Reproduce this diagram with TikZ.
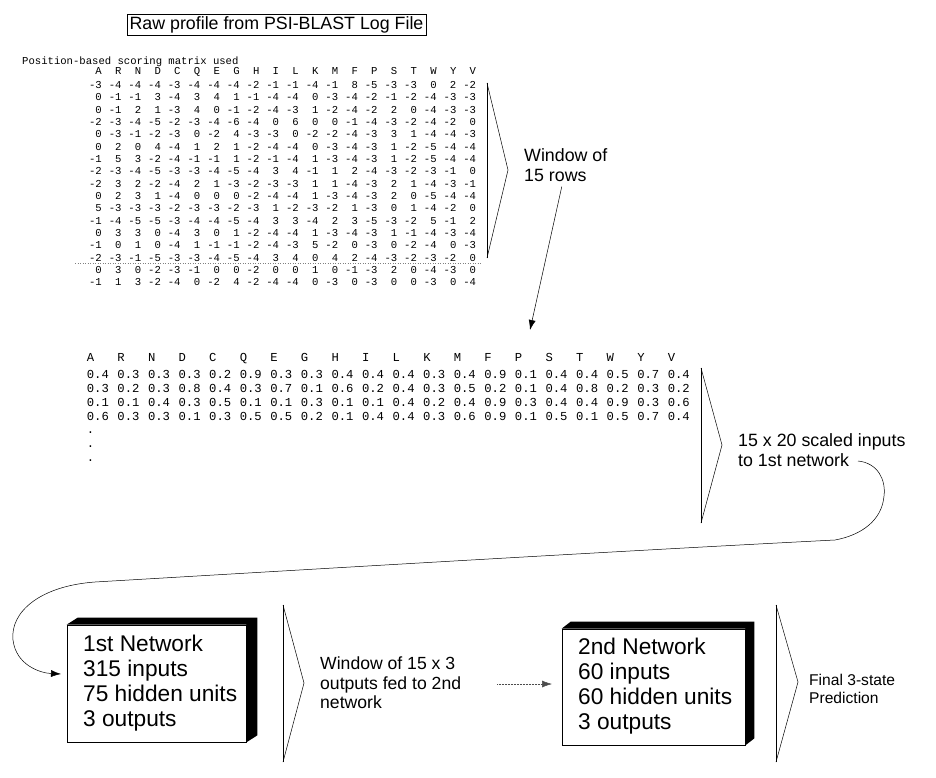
\documentclass[tikz,border=0pt]{standalone}
\usepackage{fontspec}
\setmainfont{Liberation Sans}
\setmonofont{Liberation Mono}
\usetikzlibrary{arrows.meta}
\newcommand\prow[1]{\edef\myrowlist{#1}\foreach \v in \myrowlist {\makebox[19.7pt][r]{\v}}}
\newcommand\qrow[1]{\edef\myrowlist{#1}\foreach \v in \myrowlist {\makebox[30.58pt][l]{\v}}}
\begin{document}
\begin{tikzpicture}[x=1pt,y=-1pt,
  lbl/.style={font=\fontsize{17.8}{20}\selectfont, align=left, inner sep=0pt, anchor=west},
  monoa/.style={font=\ttfamily\fontsize{10.6}{12}\selectfont, inner sep=0pt, anchor=west},
  monob/.style={font=\ttfamily\fontsize{12.2}{14}\selectfont, inner sep=0pt, anchor=west},
  netbox/.style={draw, line width=0.7pt, fill=white, inner sep=0pt},
  nettext/.style={font=\fontsize{22.7}{25}\selectfont, align=left, inner sep=0pt, anchor=west},
  chev/.style={line width=0.5pt},
  winbar/.style={line width=1pt},
  arr/.style={-{Latex[length=10pt,width=7pt]}, line width=0.5pt}]
\useasboundingbox (0,0) rectangle (936,778);

% title
\node[draw, line width=0.6pt, font=\fontsize{17.8}{20}\selectfont, minimum width=299pt,
      minimum height=21pt, inner sep=1pt] (title) at (276.5,24.5) {Raw profile from PSI-BLAST Log File};

% raw matrix
\node[monoa] (pssm) at (22,61.7) {Position-based scoring matrix used};
\node[monoa] (hdra) at (81.9,72.3) {\prow{A,R,N,D,C,Q,E,G,H,I,L,K,M,F,P,S,T,W,Y,V}};
\foreach \r [count=\k] in {
 {-3,-4,-4,-4,-3,-4,-4,-4,-2,-1,-1,-4,-1,8,-5,-3,-3,0,2,-2},
 {0,-1,-1,3,-4,3,4,1,-1,-4,-4,0,-3,-4,-2,-1,-2,-4,-3,-3},
 {0,-1,2,1,-3,4,0,-1,-2,-4,-3,1,-2,-4,-2,2,0,-4,-3,-3},
 {-2,-3,-4,-5,-2,-3,-4,-6,-4,0,6,0,0,-1,-4,-3,-2,-4,-2,0},
 {0,-3,-1,-2,-3,0,-2,4,-3,-3,0,-2,-2,-4,-3,3,1,-4,-4,-3},
 {0,2,0,4,-4,1,2,1,-2,-4,-4,0,-3,-4,-3,1,-2,-5,-4,-4},
 {-1,5,3,-2,-4,-1,-1,1,-2,-1,-4,1,-3,-4,-3,1,-2,-5,-4,-4},
 {-2,-3,-4,-5,-3,-3,-4,-5,-4,3,4,-1,1,2,-4,-3,-2,-3,-1,0},
 {-2,3,2,-2,-4,2,1,-3,-2,-3,-3,1,1,-4,-3,2,1,-4,-3,-1},
 {0,2,3,1,-4,0,0,0,-2,-4,-4,1,-3,-4,-3,2,0,-5,-4,-4},
 {5,-3,-3,-3,-2,-3,-3,-2,-3,1,-2,-3,-2,1,-3,0,1,-4,-2,0},
 {-1,-4,-5,-5,-3,-4,-4,-5,-4,3,3,-4,2,3,-5,-3,-2,5,-1,2},
 {0,3,3,0,-4,3,0,1,-2,-4,-4,1,-3,-4,-3,1,-1,-4,-3,-4},
 {-1,0,1,0,-4,1,-1,-1,-2,-4,-3,5,-2,0,-3,0,-2,-4,0,-3},
 {-2,-3,-1,-5,-3,-3,-4,-5,-4,3,4,0,4,2,-4,-3,-2,-3,-2,0},
 {0,3,0,-2,-3,-1,0,0,-2,0,0,1,0,-1,-3,2,0,-4,-3,0},
 {-1,1,3,-2,-4,0,-2,4,-2,-4,-4,0,-3,0,-3,0,0,-3,0,-4}} {
  \pgfmathsetmacro\yy{85+12.34*(\k-1)}
  \node[monoa] (ra\k) at (81.9,\yy) {\prow{\r}};
}
\draw[dotted, gray, line width=0.5pt] (75,263.5) -- (482,263.5);

% window of 15 rows
\draw[winbar] (487,83) -- (487,258);
\draw[chev] (487,83) -- (508,170) -- (487,258);
\node[lbl] (win15) at (524,165) {Window of\\15 rows};
\coordinate (mtop) at (530,330);
\draw[arr] ([xshift=-4pt,yshift=-5pt]win15.south) -- (mtop);

% scaled matrix
\node[monob] (hdrb) at (86.7,358.3) {\qrow{A,R,N,D,C,Q,E,G,H,I,L,K,M,F,P,S,T,W,Y,V}};
\foreach \r [count=\k] in {
 {0.4,0.3,0.3,0.3,0.2,0.9,0.3,0.3,0.4,0.4,0.4,0.3,0.4,0.9,0.1,0.4,0.4,0.5,0.7,0.4},
 {0.3,0.2,0.3,0.8,0.4,0.3,0.7,0.1,0.6,0.2,0.4,0.3,0.5,0.2,0.1,0.4,0.8,0.2,0.3,0.2},
 {0.1,0.1,0.4,0.3,0.5,0.1,0.1,0.3,0.1,0.1,0.4,0.2,0.4,0.9,0.3,0.4,0.4,0.9,0.3,0.6},
 {0.6,0.3,0.3,0.1,0.3,0.5,0.5,0.2,0.1,0.4,0.4,0.3,0.6,0.9,0.1,0.5,0.1,0.5,0.7,0.4}} {
  \pgfmathsetmacro\yy{374.3+14.1*(\k-1)}
  \node[monob] (rb\k) at (86.7,\yy) {\qrow{\r}};
}
\node[monob, anchor=base west] (dota) at (86.7,433.5) {.};
\node[monob, anchor=base west] (dotb) at (86.7,447.7) {.};
\node[monob, anchor=base west] (dotc) at (86.7,461.9) {.};

% window of scaled inputs
\draw[winbar] (701,368) -- (701,523);
\draw[chev] (701,368) -- (722,445) -- (701,523);
\node[lbl] (scaled) at (738,450) {15 x 20 scaled inputs\\to 1st network};

% first network
\node[netbox, minimum width=179pt, minimum height=117pt] (net1) at (156.5,683.5) {};
\fill (net1.north west) -- ++(11,-7) -- ([shift={(11,-7)}]net1.north east)
      -- ([shift={(11,-7)}]net1.south east) -- (net1.south east) -- (net1.north east) -- cycle;
\node[nettext] (net1txt) at (83,683) {1st Network\\315 inputs\\75 hidden units\\3 outputs};

\coordinate (cstart) at (858,461);
\coordinate (cin) at (61,674);
\draw[arr] (cstart) .. controls (878,463) and (886,480) .. (884,496)
   .. controls (882,520) and (862,535) .. (835,540)
   .. controls (600,552) and (300,570) .. (95,582)
   .. controls (40,586) and (10,612) .. (13,640)
   .. controls (16,665) and (40,673) .. (cin);

% window of 15 x 3
\draw[winbar] (283,605) -- (283,762);
\draw[chev] (283,605) -- (304,683) -- (283,762);
\node[lbl, font=\fontsize{17.6}{19.5}\selectfont] (win153) at (320,683) {Window of 15 x 3\\outputs fed to 2nd\\network};

% second network
\node[netbox, minimum width=183pt, minimum height=116pt] (net2) at (653.5,687) {};
\fill (net2.north west) -- ++(9,-7) -- ([shift={(9,-7)}]net2.north east)
      -- ([shift={(9,-7)}]net2.south east) -- (net2.south east) -- (net2.north east) -- cycle;
\node[nettext] (net2txt) at (578,686) {2nd Network\\60 inputs\\60 hidden units\\3 outputs};

\coordinate (dstart) at (497,684);
\coordinate (dend) at (552,684);
\draw[arr, densely dotted, draw=black!70] (dstart) -- (dend);

% final
\draw[winbar] (776,605) -- (776,762);
\draw[chev] (776,605) -- (798,682) -- (776,762);
\node[lbl, font=\fontsize{15.6}{18}\selectfont] (final) at (809,689) {Final 3-state\\Prediction};
\end{tikzpicture}
\end{document}
